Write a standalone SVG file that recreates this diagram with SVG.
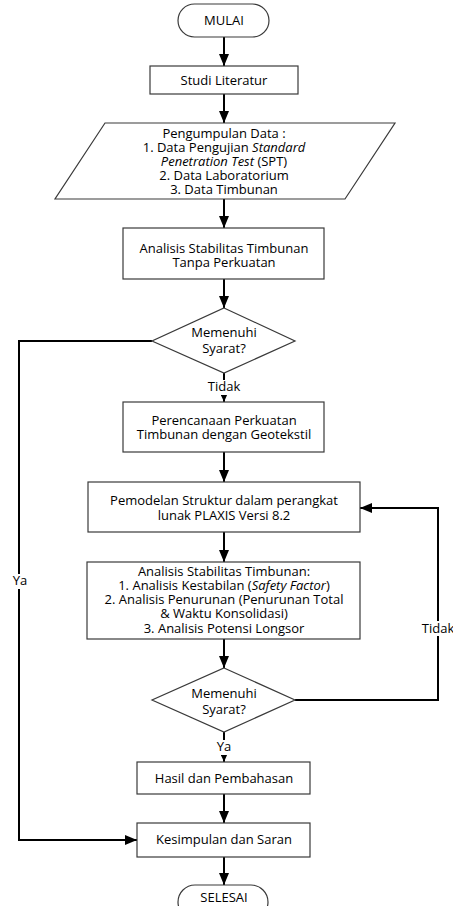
<svg xmlns="http://www.w3.org/2000/svg" width="453" height="906" viewBox="0 0 453 906">
<style>
.n{fill:#fff;stroke:#3a3a3a;stroke-width:1.2}
.t{font-family:"Open Sans","Liberation Sans",sans-serif;font-size:13px;fill:#000;text-anchor:middle}
.c{fill:none;stroke:#000;stroke-width:2}
.bg{fill:#fff;stroke:none}
</style>
<defs>
<marker id="a" viewBox="0 0 12 10" refX="12" refY="5" markerWidth="12" markerHeight="10" markerUnits="userSpaceOnUse" orient="auto"><path d="M0,0L12,5L0,10z" fill="#000"/></marker>
<marker id="s" viewBox="0 0 8 7" refX="8" refY="3.5" markerWidth="8" markerHeight="7" markerUnits="userSpaceOnUse" orient="auto"><path d="M0,0L8,3.5L0,7z" fill="#000"/></marker>
</defs>
<g id="connectors">
<path class="c" d="M224,37V66" marker-end="url(#a)"/>
<path class="c" d="M224,94V123" marker-end="url(#a)"/>
<path class="c" d="M224,199V228" marker-end="url(#a)"/>
<path class="c" d="M224,279V308" marker-end="url(#a)"/>
<path class="c" d="M224,373V402" marker-end="url(#s)"/>
<path class="c" d="M224,452V482" marker-end="url(#a)"/>
<path class="c" d="M224,532V562" marker-end="url(#a)"/>
<path class="c" d="M224,639V668" marker-end="url(#a)"/>
<path class="c" d="M224,732V762" marker-end="url(#s)"/>
<path class="c" d="M224,794V823" marker-end="url(#a)"/>
<path class="c" d="M224,857V885" marker-end="url(#a)"/>
<path class="c" d="M152,341H19V840H137" marker-end="url(#a)"/>
<path class="c" d="M295,700H438V508H360" marker-end="url(#a)"/>
<rect class="bg" x="203" y="380" width="42" height="15"/>
<text class="t" x="224" y="391">Tidak</text>
<rect class="bg" x="212" y="740" width="24" height="15"/>
<text class="t" x="224" y="751">Ya</text>
<rect class="bg" x="8" y="574" width="24" height="15"/>
<text class="t" x="20" y="585">Ya</text>
<rect class="bg" x="421" y="621" width="32" height="15"/>
<text class="t" x="438" y="633">Tidak</text>
</g>
<g id="mulai">
<rect class="n" x="178" y="4" width="91" height="33" rx="16.5"/>
<text class="t" x="224" y="25">MULAI</text>
</g>
<g id="studi">
<rect class="n" x="150" y="66" width="148" height="28"/>
<text class="t" x="224" y="84.5">Studi Literatur</text>
</g>
<g id="data">
<path class="n" d="M105,123H395L345,199H55z"/>
<text class="t" x="224" y="138">Pengumpulan Data :</text>
<text class="t" x="224" y="152">1. Data Pengujian <tspan font-style="italic">Standard</tspan></text>
<text class="t" x="224" y="166"><tspan font-style="italic">Penetration Test</tspan> (SPT)</text>
<text class="t" x="224" y="180">2. Data Laboratorium</text>
<text class="t" x="224" y="194">3. Data Timbunan</text>
</g>
<g id="analisis1">
<rect class="n" x="123" y="228" width="201" height="51"/>
<text class="t" x="224" y="252.5">Analisis Stabilitas Timbunan</text>
<text class="t" x="224" y="266.5">Tanpa Perkuatan</text>
</g>
<g id="syarat1">
<path class="n" d="M224,308L295,341L224,373L152,341z"/>
<text class="t" x="224" y="337">Memenuhi</text>
<text class="t" x="224" y="353">Syarat?</text>
</g>
<g id="perencanaan">
<rect class="n" x="123" y="402" width="201" height="50"/>
<text class="t" x="224" y="425">Perencanaan Perkuatan</text>
<text class="t" x="224" y="439">Timbunan dengan Geotekstil</text>
</g>
<g id="pemodelan">
<rect class="n" x="88" y="482" width="272" height="50"/>
<text class="t" x="224" y="505">Pemodelan Struktur dalam perangkat</text>
<text class="t" x="224" y="520">lunak PLAXIS Versi 8.2</text>
</g>
<g id="analisis2">
<rect class="n" x="87" y="562" width="273" height="77"/>
<text class="t" x="224" y="576">Analisis Stabilitas Timbunan:</text>
<text class="t" x="224" y="590">1. Analisis Kestabilan (<tspan font-style="italic">Safety Factor</tspan>)</text>
<text class="t" x="224" y="604">2. Analisis Penurunan (Penurunan Total</text>
<text class="t" x="224" y="618">&amp; Waktu Konsolidasi)</text>
<text class="t" x="224" y="633">3. Analisis Potensi Longsor</text>
</g>
<g id="syarat2">
<path class="n" d="M224,668L295,700L224,732L152,700z"/>
<text class="t" x="224" y="698">Memenuhi</text>
<text class="t" x="224" y="714">Syarat?</text>
</g>
<g id="hasil">
<rect class="n" x="137" y="762" width="173" height="32"/>
<text class="t" x="224" y="783">Hasil dan Pembahasan</text>
</g>
<g id="kesimpulan">
<rect class="n" x="137" y="823" width="173" height="34"/>
<text class="t" x="224" y="844">Kesimpulan dan Saran</text>
</g>
<g id="selesai">
<rect class="n" x="178" y="885" width="90" height="34" rx="17"/>
<text class="t" x="224" y="902">SELESAI</text>
</g>
</svg>
